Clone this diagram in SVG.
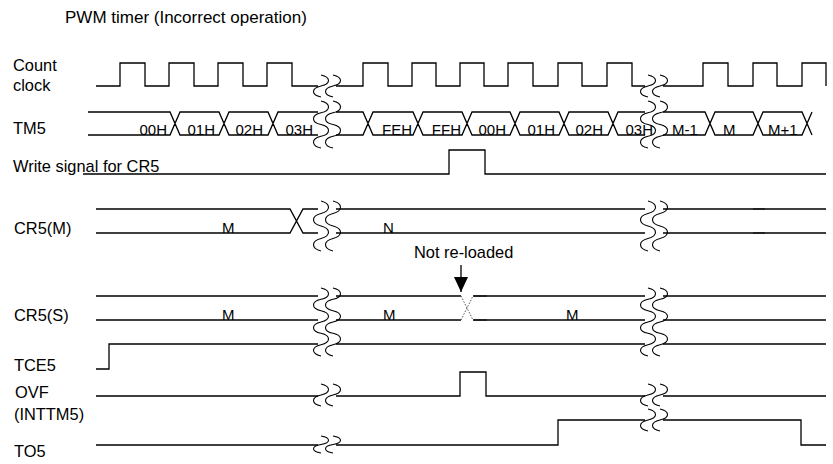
<svg xmlns="http://www.w3.org/2000/svg" xmlns:xlink="http://www.w3.org/1999/xlink" width="833" height="464" viewBox="0 0 833 464">
<style>
.sig{fill:none;stroke:#000;stroke-width:1.3;stroke-linejoin:miter}
.wv{fill:none;stroke:#000;stroke-width:1.1}
.dk{fill:none;stroke:#222;stroke-width:2.2}
.dot{fill:none;stroke:#555;stroke-width:1;stroke-dasharray:1.5 1.5}
.lbl{font-family:"Liberation Sans",Arial,sans-serif;font-size:16.4px;fill:#000}
.hd{font-family:"Liberation Sans",Arial,sans-serif;font-size:17px;fill:#000}
.val{font-family:"Liberation Sans",Arial,sans-serif;font-size:15px;fill:#000}
</style>
<defs>
<path id="w-clk" d="M0,75 C10,77.2 10,83.8 0,86 C-10,88.2 -10,94.8 0,97"/>
<path id="w-tm" d="M0,101 C10,103.35 10,110.4 0,112.75 C-10,115.1 -10,122.15 0,124.5 C10,126.85 10,133.9 0,136.25 C-10,138.6 -10,145.65 0,148"/>
<path id="w-cm" d="M0,201 C10,203.5 10,211 0,213.5 C-10,216 -10,223.5 0,226 C10,228.5 10,236 0,238.5 C-10,241 -10,248.5 0,251"/>
<path id="w-cs" d="M0,288 C10,290.27 10,297.07 0,299.33 C-10,301.6 -10,308.4 0,310.67 C10,312.93 10,319.73 0,322 C-10,324.27 -10,331.07 0,333.33 C10,335.6 10,342.4 0,344.67 C-10,346.93 -10,353.73 0,356"/>
<path id="w-ovf" d="M0,384 C10,386.2 10,392.8 0,395 C-10,397.2 -10,403.8 0,406"/>
<path id="w-to1" d="M0,436 C10,437.7 10,442.8 0,444.5 C-10,446.2 -10,451.3 0,453"/>
<path id="w-to2" d="M0,409 C10,411.2 10,417.8 0,420 C-10,422.2 -10,428.8 0,431"/>
<marker id="ah" viewBox="0 0 15 14" refX="15" refY="7" markerWidth="15" markerHeight="14" markerUnits="userSpaceOnUse" orient="auto">
<path d="M0,0 L15,7 L0,14 Z" fill="#000"/>
</marker>
</defs>

<text class="hd" x="65" y="23">PWM timer (Incorrect operation)</text>

<g id="count-clock">
<text class="lbl" x="13" y="71">Count</text>
<text class="lbl" x="13" y="91">clock</text>
<path class="sig" d="M96,86 H120 V63 H145 V86 H169 V63 H194 V86 H218 V63 H243 V86 H267 V63 H292 V86 H318 M336,86 H363 V63 H388 V86 H412 V63 H436 V86 H460 V63 H484 V86 H508 V63 H533 V86 H558 V63 H582 V86 H607 V63 H632 V86 H645 M663,86 H703 V63 H728 V86 H753 V63 H777 V86 H802 V63 H826 V86"/>
<use xlink:href="#w-clk" href="#w-clk" class="wv" x="321"/>
<use xlink:href="#w-clk" href="#w-clk" class="wv" x="333"/>
<use xlink:href="#w-clk" href="#w-clk" class="wv" x="648"/>
<use xlink:href="#w-clk" href="#w-clk" class="wv" x="660"/>
</g>

<g id="tm5">
<text class="lbl" x="13" y="134">TM5</text>
<path class="sig" d="M88,112 H170 L180,135 H219 L229,112 H268 L278,135 H318 M88,135 H170 L180,112 H219 L229,135 H268 L278,112 H318"/>
<path class="sig" d="M336,112 H363 L373,135 H413 L423,112 H462 L472,135 H510 L520,112 H559 L569,135 H608 L618,112 H645 M336,135 H363 L373,112 H413 L423,135 H462 L472,112 H510 L520,135 H559 L569,112 H608 L618,135 H645"/>
<path class="sig" d="M663,112 H705 L715,135 H753 L763,112 H802 L812,135 M663,135 H705 L715,112 H753 L763,135 H802 L812,112"/>
<use xlink:href="#w-tm" href="#w-tm" class="wv" x="321"/>
<use xlink:href="#w-tm" href="#w-tm" class="wv" x="333"/>
<use xlink:href="#w-tm" href="#w-tm" class="wv" x="648"/>
<use xlink:href="#w-tm" href="#w-tm" class="wv" x="660"/>
<g class="val" text-anchor="end">
<text x="167" y="134.5">00H</text>
<text x="215" y="134.5">01H</text>
<text x="263" y="134.5">02H</text>
<text x="313" y="134.5">03H</text>
<text x="412" y="134.5">FEH</text>
<text x="461" y="134.5">FFH</text>
<text x="506" y="134.5">00H</text>
<text x="555" y="134.5">01H</text>
<text x="603" y="134.5">02H</text>
<text x="653" y="134.5">03H</text>
</g>
<text class="val" x="672" y="134.5">M-1</text>
<text class="val" x="723" y="134.5">M</text>
<text class="val" x="768" y="134.5">M+1</text>
</g>

<g id="write-signal">
<text class="lbl" x="13" y="172">Write signal for CR5</text>
<path class="sig" d="M83,174 H449 V150 H485 V174 H826"/>
</g>

<g id="cr5m">
<text class="lbl" x="14" y="234">CR5(M)</text>
<path class="sig" d="M96,209 H290 L303,233 H318 M96,233 H290 L303,209 H318 M336,209 H645 M663,209 H826 M336,233 H645 M663,233 H826"/>
<path class="dk" d="M753,209 H765 M753,233 H765"/>
<use xlink:href="#w-cm" href="#w-cm" class="wv" x="321"/>
<use xlink:href="#w-cm" href="#w-cm" class="wv" x="333"/>
<use xlink:href="#w-cm" href="#w-cm" class="wv" x="648"/>
<use xlink:href="#w-cm" href="#w-cm" class="wv" x="660"/>
<text class="val" x="222" y="233">M</text>
<text class="val" x="383" y="233">N</text>
</g>

<g id="cr5s">
<text class="lbl" x="14" y="321">CR5(S)</text>
<path class="sig" d="M96,296 H318 M336,296 H461 M473,296 H645 M663,296 H826 M96,320 H318 M336,320 H461 M473,320 H645 M663,320 H826"/>
<path class="dot" d="M461,296 L473,320 M461,320 L473,296"/>
<path class="dk" d="M474,296 H487 M474,320 H487"/>
<use xlink:href="#w-cs" href="#w-cs" class="wv" x="321"/>
<use xlink:href="#w-cs" href="#w-cs" class="wv" x="333"/>
<use xlink:href="#w-cs" href="#w-cs" class="wv" x="648"/>
<use xlink:href="#w-cs" href="#w-cs" class="wv" x="660"/>
<text class="val" x="222" y="320">M</text>
<text class="val" x="383" y="320">M</text>
<text class="val" x="566" y="320">M</text>
</g>

<g id="not-reloaded">
<text class="lbl" x="414" y="258">Not re-loaded</text>
</g>

<g id="tce5">
<text class="lbl" x="14" y="371">TCE5</text>
<path class="sig" d="M96,369 H109 V344 H318 M336,344 H645 M663,344 H826"/>
</g>

<g id="ovf">
<text class="lbl" x="15" y="398">OVF</text>
<text class="lbl" x="14" y="420">(INTTM5)</text>
<path class="sig" d="M96,396 H318 M336,396 H460 V372 H486 V396 H645 M663,396 H826"/>
<use xlink:href="#w-ovf" href="#w-ovf" class="wv" x="321"/>
<use xlink:href="#w-ovf" href="#w-ovf" class="wv" x="333"/>
<use xlink:href="#w-ovf" href="#w-ovf" class="wv" x="648"/>
<use xlink:href="#w-ovf" href="#w-ovf" class="wv" x="660"/>
</g>

<g id="to5">
<text class="lbl" x="14" y="457">TO5</text>
<path class="sig" d="M96,445 H318 M336,445 H558 V420 H645 M663,420 H801 V445 H826"/>
<use xlink:href="#w-to1" href="#w-to1" class="wv" x="321"/>
<use xlink:href="#w-to1" href="#w-to1" class="wv" x="333"/>
<use xlink:href="#w-to2" href="#w-to2" class="wv" x="648"/>
<use xlink:href="#w-to2" href="#w-to2" class="wv" x="660"/>
</g>

<g id="connectors">
<path class="sig" d="M461,265 V292" marker-end="url(#ah)"/>
</g>
</svg>
